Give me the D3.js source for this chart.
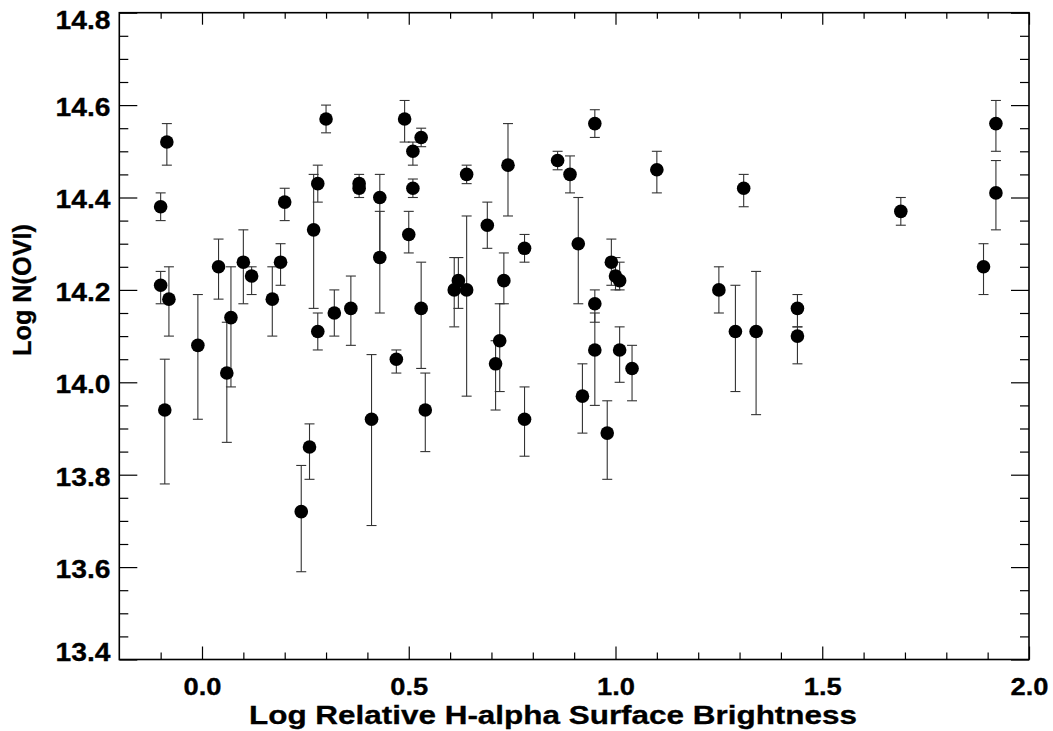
<!DOCTYPE html>
<html>
<head>
<meta charset="utf-8">
<script src="https://cdn.jsdelivr.net/npm/d3@7"></script>
<style>
  html, body { margin: 0; padding: 0; background: #fff; }
  svg { display: block; }
  text { font-family: "Liberation Sans", Arial, Helvetica, sans-serif; font-weight: bold; fill: #000; }
</style>
</head>
<body>
<svg id="chart" width="1053" height="731"></svg>
<script>
// ---- data ----
const xVals = [-0.10, -0.08, -0.09, -0.10, -0.085, -0.01, 0.04, 0.06, 0.07, 0.10, 0.12, 0.17, 0.19, 0.20,
  0.24, 0.26, 0.27, 0.28, 0.28, 0.30, 0.32, 0.36, 0.38, 0.38, 0.41, 0.43, 0.43, 0.47, 0.49, 0.50,
  0.51, 0.51, 0.53, 0.53, 0.54, 0.61, 0.62, 0.64, 0.64, 0.69, 0.71, 0.72, 0.73, 0.74, 0.78, 0.78,
  0.86, 0.89, 0.91, 0.92, 0.95, 0.95, 0.95, 0.98, 0.99, 1.00, 1.01, 1.01, 1.04, 1.10, 1.25, 1.29,
  1.31, 1.34, 1.44, 1.44, 1.69, 1.89, 1.92, 1.92];
const yVals = [14.21, 14.18, 13.94, 14.38, 14.52, 14.08, 14.25, 14.02, 14.14, 14.26, 14.23, 14.18, 14.26, 14.39,
  13.72, 13.86, 14.33, 14.43, 14.11, 14.57, 14.15, 14.16, 14.43, 14.42, 13.92, 14.40, 14.27, 14.05, 14.57, 14.32,
  14.50, 14.42, 14.53, 14.16, 13.94, 14.20, 14.22, 14.45, 14.20, 14.34, 14.04, 14.09, 14.22, 14.47, 14.29, 13.92,
  14.48, 14.45, 14.30, 13.97, 14.56, 14.17, 14.07, 13.89, 14.26, 14.23, 14.22, 14.07, 14.03, 14.46, 14.20, 14.11,
  14.42, 14.11, 14.16, 14.10, 14.37, 14.25, 14.41, 14.56];
const yHigh = [14.24, 14.25, 14.05, 14.41, 14.56, 14.19, 14.31, 14.13, 14.25, 14.33, 14.25, 14.25, 14.30, 14.42,
  13.82, 13.91, 14.45, 14.47, 14.15, 14.60, 14.20, 14.23, 14.45, 14.44, 14.06, 14.45, 14.37, 14.07, 14.61, 14.37,
  14.52, 14.44, 14.55, 14.26, 14.02, 14.27, 14.27, 14.47, 14.36, 14.39, 14.09, 14.17, 14.28, 14.56, 14.32, 13.99,
  14.50, 14.49, 14.40, 14.04, 14.59, 14.20, 14.15, 13.96, 14.31, 14.27, 14.26, 14.12, 14.08, 14.50, 14.25, 14.21,
  14.45, 14.24, 14.19, 14.12, 14.40, 14.30, 14.48, 14.61];
const yLow = [14.17, 14.10, 13.78, 14.35, 14.47, 13.92, 14.18, 13.87, 13.99, 14.17, 14.19, 14.10, 14.21, 14.35,
  13.59, 13.79, 14.16, 14.39, 14.07, 14.54, 14.10, 14.08, 14.41, 14.40, 13.69, 14.28, 14.15, 14.02, 14.52, 14.28,
  14.47, 14.40, 14.51, 14.03, 13.85, 14.12, 14.16, 14.43, 13.97, 14.29, 13.94, 13.98, 14.17, 14.36, 14.26, 13.84,
  14.46, 14.41, 14.17, 13.89, 14.53, 14.13, 13.95, 13.79, 14.21, 14.20, 14.20, 14.00, 13.96, 14.41, 14.15, 13.98,
  14.38, 13.93, 14.12, 14.04, 14.34, 14.19, 14.33, 14.50];

const xMajor = [0.0, 0.5, 1.0, 1.5, 2.0];
const xMajorLabels = ["0.0", "0.5", "1.0", "1.5", "2.0"];
const xMinor = [-0.1, 0.1, 0.2, 0.3, 0.4, 0.6, 0.7, 0.8, 0.9, 1.1, 1.2, 1.3, 1.4, 1.6, 1.7, 1.8, 1.9];
const yMajor = [13.4, 13.6, 13.8, 14.0, 14.2, 14.4, 14.6, 14.8];
const yMajorLabels = ["13.4", "13.6", "13.8", "14.0", "14.2", "14.4", "14.6", "14.8"];
const yMinor = [13.45, 13.5, 13.55, 13.65, 13.7, 13.75, 13.85, 13.9, 13.95, 14.05, 14.1, 14.15,
  14.25, 14.3, 14.35, 14.45, 14.5, 14.55, 14.65, 14.7, 14.75];

const xTitle = "Log Relative H-alpha Surface Brightness";
const yTitle = "Log N(OVI)";

// ---- layout ----
const L = 119.3, R = 1029, T = 12.7, B = 659.5;
const x = d3.scaleLinear().domain([-0.2, 2.0]).range([L, R]);
const y = d3.scaleLinear().domain([13.4, 14.8]).range([B, T]);

const svg = d3.select("#chart");

function styleAxis(g) {
  g.select(".domain").remove();
  g.selectAll(".tick line").attr("stroke", "#000").attr("stroke-width", 1.2);
}

// bottom
svg.append("g").attr("transform", `translate(0,${B})`)
  .call(d3.axisBottom(x).tickValues(xMinor).tickSize(-7).tickFormat(""))
  .call(styleAxis);
const bx = svg.append("g").attr("transform", `translate(0,${B})`)
  .call(d3.axisBottom(x).tickValues(xMajor).tickSize(-13)
    .tickFormat((d, i) => xMajorLabels[i]))
  .call(styleAxis);
bx.selectAll(".tick text")
  .attr("y", 695 - B).attr("dy", null)
  .attr("font-size", 23).attr("text-anchor", "middle")
  .attr("stroke", "#000").attr("stroke-width", 0.3)
  .attr("textLength", 38).attr("lengthAdjust", "spacingAndGlyphs");

// top
svg.append("g").attr("transform", `translate(0,${T})`)
  .call(d3.axisTop(x).tickValues(xMinor).tickSize(-6).tickFormat(""))
  .call(styleAxis);
svg.append("g").attr("transform", `translate(0,${T})`)
  .call(d3.axisTop(x).tickValues(xMajor).tickSize(-12).tickFormat(""))
  .call(styleAxis);

// left
svg.append("g").attr("transform", `translate(${L},0)`)
  .call(d3.axisLeft(y).tickValues(yMinor).tickSize(-9).tickFormat(""))
  .call(styleAxis);
const ly = svg.append("g").attr("transform", `translate(${L},0)`)
  .call(d3.axisLeft(y).tickValues(yMajor).tickSize(-18)
    .tickFormat((d, i) => yMajorLabels[i]))
  .call(styleAxis);
ly.selectAll(".tick text")
  .attr("x", 110.5 - L).attr("dy", null)
  .attr("y", d => {
    const ty = y(d);
    const c = Math.max(19.5, Math.min(651, ty + 1));
    return c - ty + 9.3;
  })
  .attr("font-size", 26).attr("text-anchor", "end")
  .attr("stroke", "#000").attr("stroke-width", 0.3)
  .attr("textLength", 55).attr("lengthAdjust", "spacingAndGlyphs");

// right
svg.append("g").attr("transform", `translate(${R},0)`)
  .call(d3.axisRight(y).tickValues(yMinor).tickSize(-9).tickFormat(""))
  .call(styleAxis);
svg.append("g").attr("transform", `translate(${R},0)`)
  .call(d3.axisRight(y).tickValues(yMajor).tickSize(-18).tickFormat(""))
  .call(styleAxis);

// frame
svg.append("rect")
  .attr("x", L).attr("y", T).attr("width", R - L).attr("height", B - T)
  .attr("fill", "none").attr("stroke", "#000").attr("stroke-width", 1.6);

// data
const data = xVals.map((v, i) => ({ x: v, y: yVals[i], hi: yHigh[i], lo: yLow[i] }));
const eb = svg.append("g").attr("stroke", "#333").attr("stroke-width", 1.1);
eb.selectAll("line.v").data(data).join("line").attr("class", "v")
  .attr("x1", d => x(d.x)).attr("x2", d => x(d.x))
  .attr("y1", d => y(d.hi)).attr("y2", d => y(d.lo));
eb.selectAll("line.h").data(data).join("line").attr("class", "h")
  .attr("x1", d => x(d.x) - 5).attr("x2", d => x(d.x) + 5)
  .attr("y1", d => y(d.hi)).attr("y2", d => y(d.hi));
eb.selectAll("line.l").data(data).join("line").attr("class", "l")
  .attr("x1", d => x(d.x) - 5).attr("x2", d => x(d.x) + 5)
  .attr("y1", d => y(d.lo)).attr("y2", d => y(d.lo));

svg.append("g").selectAll("circle").data(data).join("circle")
  .attr("cx", d => x(d.x)).attr("cy", d => y(d.y)).attr("r", 6.8).attr("fill", "#000");

// titles
svg.append("text")
  .attr("x", 553).attr("y", 723.5)
  .attr("text-anchor", "middle").attr("font-size", 25)
  .attr("stroke", "#000").attr("stroke-width", 0.3)
  .attr("textLength", 608).attr("lengthAdjust", "spacingAndGlyphs")
  .text(xTitle);

svg.append("text")
  .attr("transform", "translate(31,290) rotate(-90)")
  .attr("text-anchor", "middle").attr("font-size", 26)
  .attr("stroke", "#000").attr("stroke-width", 0.3)
  .attr("textLength", 132).attr("lengthAdjust", "spacingAndGlyphs")
  .text(yTitle);
</script>
</body>
</html>
